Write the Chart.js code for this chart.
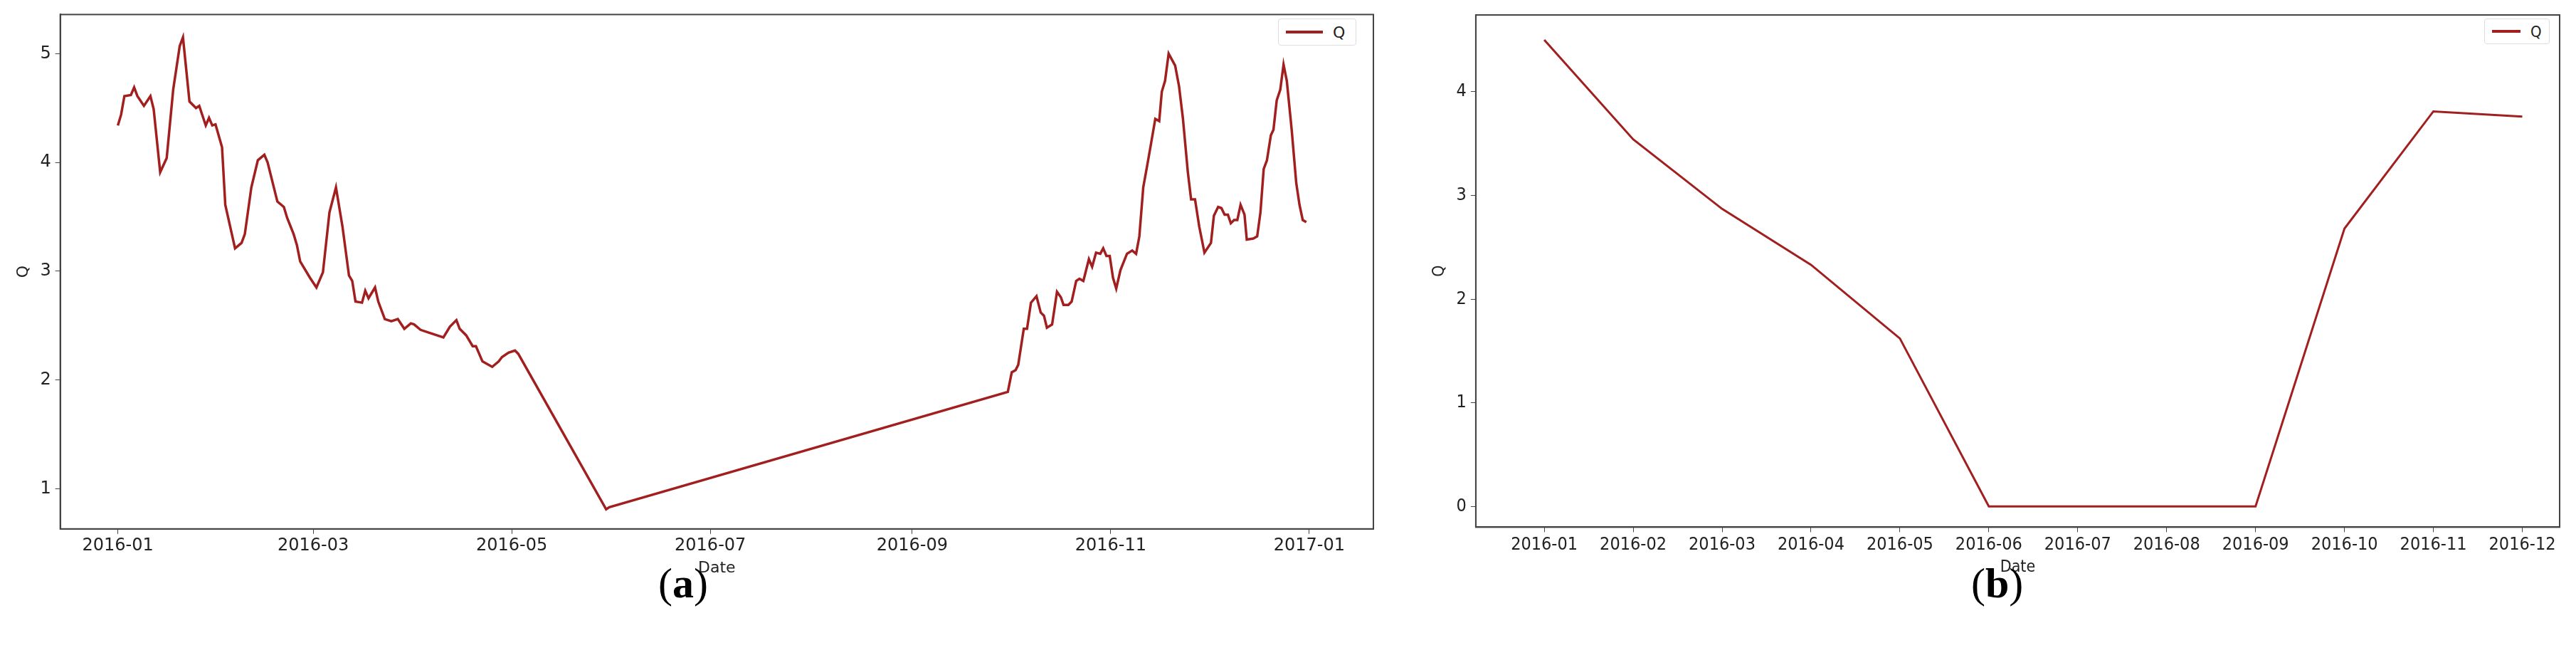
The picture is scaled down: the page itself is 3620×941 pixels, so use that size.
<!DOCTYPE html>
<html><head><meta charset="utf-8">
<script src="https://cdn.jsdelivr.net/npm/chart.js@4.4.0/dist/chart.umd.min.js"></script>
<style>
html,body{margin:0;padding:0;background:#fff;width:3620px;height:941px;overflow:hidden}
.wrap{position:absolute}
.cap{position:absolute;font-family:"Liberation Serif",serif;font-size:60px;color:#000}
.leg{position:absolute;border:1px solid #ddd;border-radius:4px;background:#fff;display:flex;align-items:center;color:#222}
.leg span.l{display:inline-block;height:4px;background:#a11f1f;margin-right:14px}
</style></head><body>
<div class="wrap" style="left:0;top:0;width:1960px;height:815px"><canvas id="c1"></canvas></div>
<div class="wrap" style="left:1985px;top:0;width:1635px;height:815px"><canvas id="c2"></canvas></div>
<div class="leg" style="left:1796px;top:26px;width:110px;height:38px;font-family:'DejaVu Sans';font-size:22px;padding-left:10px;box-sizing:border-box"><span class="l" style="width:52px"></span>Q</div>
<div class="leg" style="left:3491px;top:26px;width:92px;height:36px;font-family:'DejaVu Sans Condensed','Liberation Sans Narrow',sans-serif;font-size:22px;padding-left:10px;box-sizing:border-box"><span class="l" style="width:40px"></span>Q</div>
<div class="cap" style="left:925px;top:785px">(<b>a</b>)</div>
<div class="cap" style="left:2770px;top:785px">(<b>b</b>)</div>
<script>
// ---- panel (a): daily Q, x = day of 2016 (0 = 2016-01-01) ----
const dailyDays = [0,1,2,4,5,6,8,10,11,13,15,17,19,20,22,24,25,27,28,29,30,32,33,36,38,39,41,43,45,46,49,51,52,54,55,56,59,61,63,65,67,69,71,72,73,75,76,77,79,80,82,84,86,88,90,91,93,96,98,100,102,104,105,107,109,110,112,115,117,118,120,122,123,
150,151,
273.4,274.6,275.8,276.6,278.3,279.3,280.5,282.2,283.5,284.5,285.4,287,288.5,289.7,290.5,292,293,294.4,295.4,296.6,298.3,299.3,300.5,301.8,302.7,303.7,304.7,305.7,306.7,308,310,311.6,312.8,313.8,315,316.2,317.2,318.7,319.9,320.7,321.7,322.8,324.8,326,327.2,328.7,329.7,330.9,332.2,333.8,335.8,336.7,338,339,340,341,341.9,342.9,343.9,344.9,346.1,346.8,348.8,350,351,352,353,354.2,355,356,357.1,358.1,359.1,360.6,362,363,364,365.1];
const dailyQ = [4.34,4.44,4.61,4.62,4.69,4.61,4.52,4.61,4.49,3.91,4.04,4.67,5.07,5.15,4.56,4.50,4.52,4.34,4.41,4.34,4.35,4.14,3.61,3.21,3.26,3.34,3.77,4.02,4.07,4.00,3.64,3.59,3.49,3.34,3.24,3.09,2.94,2.85,2.99,3.54,3.77,3.41,2.96,2.91,2.72,2.71,2.82,2.75,2.85,2.72,2.56,2.54,2.56,2.47,2.52,2.51,2.46,2.43,2.41,2.39,2.49,2.55,2.47,2.41,2.31,2.31,2.17,2.12,2.17,2.21,2.25,2.27,2.24,
0.81,0.83,
1.89,2.07,2.09,2.14,2.47,2.47,2.71,2.77,2.62,2.59,2.48,2.51,2.81,2.76,2.69,2.69,2.72,2.91,2.93,2.91,3.11,3.04,3.17,3.16,3.21,3.14,3.14,2.94,2.84,3.01,3.16,3.19,3.16,3.32,3.77,3.97,4.14,4.40,4.38,4.65,4.75,5.00,4.89,4.70,4.40,3.91,3.66,3.66,3.41,3.17,3.26,3.51,3.59,3.58,3.52,3.52,3.44,3.47,3.47,3.61,3.52,3.29,3.30,3.32,3.54,3.94,4.02,4.25,4.30,4.57,4.67,4.90,4.75,4.30,3.81,3.61,3.47,3.45];
const aTickDays = [0,60,121,182,244,305,366];
const aTickLabels = ["2016-01","2016-03","2016-05","2016-07","2016-09","2016-11","2017-01"];
const aYTicks = [1,2,3,4,5];

// ---- panel (b): monthly Q ----
const months = ["2016-01","2016-02","2016-03","2016-04","2016-05","2016-06","2016-07","2016-08","2016-09","2016-10","2016-11","2016-12"];
const monthlyQ = [4.50,3.54,2.87,2.33,1.62,0,0,0,0,2.68,3.81,3.76];
const bYTicks = [0,1,2,3,4];

const RED = '#a11f1f';
const frame = {id:'frame',afterDraw(c){const a=c.chartArea,x=c.ctx;x.save();x.strokeStyle='#444';x.lineWidth=2;x.strokeRect(a.left,a.top,a.right-a.left,a.bottom-a.top);x.restore();}};

function mk(id, pts, xmin, xmax, xt, xl, ymin, ymax, yt, font, fs, pad, lw){
  return new Chart(document.getElementById(id),{
    type:'line',
    data:{datasets:[{label:'Q',data:pts,borderColor:RED,backgroundColor:RED,borderWidth:lw,pointRadius:0,tension:0}]},
    options:{responsive:true,maintainAspectRatio:false,animation:false,parsing:false,
      layout:{padding:pad},
      plugins:{tooltip:{enabled:false},legend:{display:false}},
      scales:{
        x:{type:'linear',min:xmin,max:xmax,
          afterBuildTicks(s){s.ticks=xt.map(v=>({value:v}));},
          ticks:{callback:(v,i)=>xl[i],color:'#222',font:{family:font,size:fs},maxRotation:0,autoSkip:false},
          grid:{display:true,drawOnChartArea:false,tickLength:7,color:'#444'},border:{color:'#444',width:2},
          title:{display:true,text:'Date',color:'#222',font:{family:font,size:fs-2},padding:{top:0}}},
        y:{min:ymin,max:ymax,
          afterBuildTicks(s){s.ticks=yt.map(v=>({value:v}));},
          ticks:{color:'#222',font:{family:font,size:fs},padding:6},
          grid:{display:true,drawOnChartArea:false,tickLength:7,color:'#444'},border:{color:'#444',width:2},
          title:{display:true,text:'Q',color:'#222',font:{family:font,size:fs-2}}}
      }},
    plugins:[frame]});
}
mk('c1', dailyDays.map((d,i)=>({x:d,y:dailyQ[i]})), -17.7, 385.7, aTickDays, aTickLabels, 0.63, 5.36, aYTicks, '"DejaVu Sans"', 24, {top:14,right:30,left:16}, 3.5);
mk('c2', monthlyQ.map((v,i)=>({x:i,y:v})), -0.77, 11.42, months.map((m,i)=>i), months, -0.2, 4.74, bYTicks, '"Liberation Sans Narrow","DejaVu Sans Condensed",sans-serif', 25, {top:14,right:23,left:20}, 3);
</script></body></html>
